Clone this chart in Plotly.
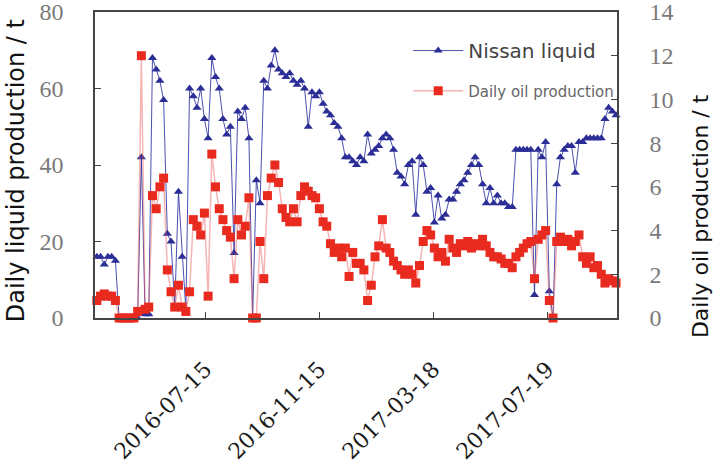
import pandas as pd
import plotly.graph_objects as go

start_date = "2016-03-20"
step = "4D"

liquid = [16, 16, 14, 16, 16, 15, 0, 0, 0, 0, 0, 0,
          42, 1, 1, 68, 65, 62, 57, 22,
          20, 3, 33, 16, 2, 60, 58, 55, 60, 52,
          47, 68, 63, 60, 52, 48, 50, 17, 54, 52,
          55, 47, 0, 36, 30, 62, 60, 66, 70, 65,
          64, 63, 64, 62, 61, 62, 60, 50, 59, 58,
          59, 56, 54, 53, 51, 50, 47, 42, 42, 41,
          40, 42, 41, 48, 43, 44, 45, 47, 48, 47,
          44, 38, 37, 35, 40, 41, 27, 42, 40, 33,
          34, 25, 32, 26, 27, 31, 31, 33, 35, 36,
          38, 40, 42, 40, 35, 30, 34, 30, 32, 30,
          30, 29, 29, 44, 44, 44, 44, 44, 6, 44,
          42, 46, 7, 0, 35, 42, 44, 45, 45, 38,
          46, 46, 47, 47, 47, 47, 47, 52, 55, 54, 53]

oil = [0.8, 1.0, 1.1, 1.0, 1.0, 0.8, 0, 0, 0, 0, 0, 0.3,
       12, 0.4, 0.5, 5.6, 5.0, 6.0, 6.4, 2.2,
       1.2, 0.5, 1.5, 0.5, 0.3, 1.2, 4.5, 4.2, 3.8, 4.8,
       1.0, 7.5, 6.0, 5.0, 4.5, 4.0, 3.7, 1.8, 4.5, 3.8,
       4.2, 5.5, 0, 0, 3.5, 1.8, 5.6, 6.4, 7.0, 6.2,
       5.0, 4.6, 4.4, 5.0, 4.4, 5.6, 6.0, 5.8, 5.6, 5.5,
       5.0, 4.4, 4.2, 3.4, 3.0, 3.2, 2.8, 3.2, 1.9, 3.0,
       2.5, 2.5, 2.2, 0.8, 1.5, 2.8, 3.3, 4.5, 3.2, 3.0,
       2.6, 2.4, 2.2, 2.0, 2.2, 2.0, 1.6, 2.4, 3.5, 4.0,
       3.8, 3.2, 2.8, 3.0, 2.6, 3.6, 3.2, 3.0, 3.4, 3.3,
       3.5, 3.2, 3.4, 3.3, 3.6, 3.3, 3.0, 2.8, 2.8, 2.7,
       2.5, 2.5, 2.3, 2.8, 3.0, 3.2, 3.4, 3.5, 1.8, 3.6,
       3.8, 4.0, 0.8, 0, 3.5, 3.7, 3.5, 3.6, 3.3, 3.5,
       3.8, 2.8, 2.5, 2.8, 2.3, 2.4, 2.0, 1.6, 1.8, 1.7, 1.6]

dates = pd.date_range(start=start_date, periods=len(liquid), freq=step)

tick_dates = ["2016-07-15", "2016-11-15", "2017-03-18", "2017-07-19"]
left_ticks = [0, 20, 40, 60, 80]
right_ticks = [0, 2, 4, 6, 8, 10, 12, 14]

BLUE = "#2b2e96"
RED = "#e82a1f"
FRAME = "#454545"

fig = go.Figure()
fig.add_trace(go.Scatter(
    x=dates, y=liquid, name="Nissan liquid", mode="lines+markers",
    line=dict(color="rgba(45,48,160,0.85)", width=1),
    marker=dict(symbol="triangle-up", size=8, color=BLUE),
    cliponaxis=False, legend="legend"))
fig.add_trace(go.Scatter(
    x=dates, y=oil, name="Daily oil production", mode="lines+markers",
    line=dict(color="rgba(235,90,90,0.45)", width=1.5),
    marker=dict(symbol="square", size=9, color=RED),
    cliponaxis=False, yaxis="y2", legend="legend2"))

tickfont_num = dict(family="Liberation Serif", size=24, color="#7a7a7a")

fig.update_layout(
    width=713, height=466,
    margin=dict(l=95, r=96, t=12, b=148),
    paper_bgcolor="white", plot_bgcolor="white",
    showlegend=True,
    xaxis=dict(
        type="date", range=["2016-03-18", "2017-10-02"], automargin=False,
        tickvals=tick_dates, ticktext=tick_dates, tickangle=-45,
        tickfont=dict(family="DejaVu Serif", size=22, color="#1a1a1a"),
        ticks="inside", ticklen=6, tickcolor=FRAME,
        showline=True, linecolor=FRAME, linewidth=1.5, mirror=True,
        showgrid=False, zeroline=False, ticklabelstandoff=28,
        ticklabeloverflow="allow"),
    yaxis=dict(
        range=[0, 80], tickvals=left_ticks, tickfont=tickfont_num,
        automargin=False, ticklabeloverflow="allow",
        ticks="inside", ticklen=6, tickcolor=FRAME,
        showline=True, linecolor=FRAME, linewidth=1.5,
        showgrid=False, zeroline=False, ticklabelstandoff=25),
    yaxis2=dict(
        range=[0, 14], tickvals=right_ticks, tickfont=tickfont_num,
        overlaying="y", side="right", automargin=False,
        ticklabeloverflow="allow",
        ticks="inside", ticklen=6, tickcolor=FRAME,
        showline=True, linecolor=FRAME, linewidth=1.5,
        showgrid=False, zeroline=False, ticklabelstandoff=26),
    legend=dict(x=0.6, y=0.874, xanchor="left", yanchor="middle",
                bgcolor="rgba(0,0,0,0)", itemwidth=50,
                font=dict(family="DejaVu Sans", size=20, color="#444444")),
    legend2=dict(x=0.6, y=0.742, xanchor="left", yanchor="middle",
                 bgcolor="rgba(0,0,0,0)", itemwidth=50,
                 font=dict(family="DejaVu Sans", size=15, color="#666666")),
    annotations=[
        dict(text="Daily liquid production / t", xref="paper", yref="paper",
             x=-0.151, y=0.48, xanchor="center", yanchor="middle",
             textangle=-90, showarrow=False,
             font=dict(family="DejaVu Sans", size=24, color="#111111")),
        dict(text="Daily oil production / t", xref="paper", yref="paper",
             x=1.159, y=0.333, xanchor="center", yanchor="middle",
             textangle=-90, showarrow=False,
             font=dict(family="DejaVu Sans", size=22, color="#111111")),
    ],
)

fig.write_html("out.html", config={"displayModeBar": False},
               post_script="document.body.style.margin='0px';")
